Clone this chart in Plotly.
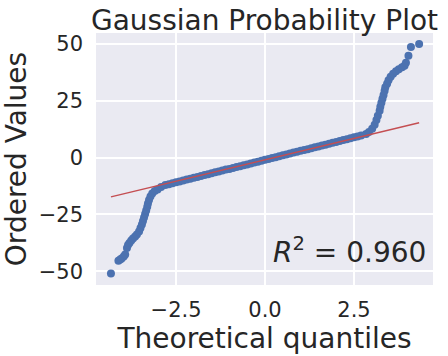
import plotly.graph_objects as go

# ordered sample values vs. theoretical normal quantiles
left_x = [-4.33, -4.12, -4.07, -4.03, -3.97, -3.93, -3.88, -3.85, -3.81, -3.76,
          -3.71, -3.65, -3.60, -3.54, -3.50, -3.46, -3.43, -3.40, -3.37, -3.34,
          -3.31, -3.29, -3.26, -3.22, -3.17, -3.10, -3.02, -2.92]
left_y = [-51.0, -45.4, -44.9, -44.4, -43.6, -42.7, -39.8, -38.5, -37.6, -36.5,
          -35.6, -34.7, -33.9, -32.5, -31.0, -29.5, -27.9, -26.4, -24.8, -23.3,
          -21.7, -20.2, -18.7, -17.1, -15.8, -14.7, -14.0, -13.0]

mid_x = [-2.8, -2.7, -2.6, -2.5, -2.4, -2.3, -2.2, -2.1, -2.0, -1.9,
         -1.8, -1.7, -1.6, -1.5, -1.4, -1.3, -1.2, -1.1, -1.0, -0.9,
         -0.8, -0.7, -0.6, -0.5, -0.4, -0.3, -0.2, -0.1, 0.0, 0.1,
         0.2, 0.3, 0.4, 0.5, 0.6, 0.7, 0.8, 0.9, 1.0, 1.1,
         1.2, 1.3, 1.4, 1.5, 1.6, 1.7, 1.8, 1.9, 2.0, 2.1,
         2.2, 2.3, 2.4, 2.5, 2.6, 2.7]
mid_y = [-12.1, -11.7, -11.3, -10.9, -10.5, -10.1, -9.7, -9.3, -8.9, -8.5,
         -8.1, -7.7, -7.3, -6.9, -6.5, -6.1, -5.7, -5.3, -5.0, -4.6,
         -4.2, -3.8, -3.4, -3.0, -2.6, -2.2, -1.8, -1.4, -1.0, -0.6,
         -0.2, 0.2, 0.6, 1.0, 1.4, 1.8, 2.2, 2.6, 3.0, 3.3,
         3.7, 4.1, 4.5, 4.9, 5.3, 5.7, 6.1, 6.5, 6.9, 7.3,
         7.7, 8.1, 8.5, 8.9, 9.3, 9.7]

right_x = [2.84, 2.92, 3.01, 3.08, 3.13, 3.17, 3.22, 3.24, 3.27, 3.30,
           3.33, 3.36, 3.38, 3.43, 3.47, 3.53, 3.60, 3.68, 3.76, 3.85,
           3.92, 3.96, 4.03, 4.10, 4.33]
right_y = [10.4, 11.3, 12.7, 14.4, 16.6, 18.4, 20.6, 22.4, 24.1, 25.9,
           27.6, 29.4, 31.0, 32.5, 34.0, 35.6, 36.9, 38.0, 38.9, 39.8,
           40.4, 41.8, 44.8, 48.7, 50.0]

# least-squares fit line end points
fit_x = [-4.33, 4.33]
fit_y = [-17.3, 15.3]
r_squared = 0.960

x_ticks = [-2.5, 0.0, 2.5]
y_ticks = [-50, -25, 0, 25, 50]

osm = left_x + mid_x + right_x
osr = left_y + mid_y + right_y

ink = "#262626"
font = "DejaVu Sans"

fig = go.Figure()
fig.add_trace(
    go.Scatter(
        x=osm,
        y=osr,
        mode="markers",
        marker=dict(color="#4C72B0", size=8, line=dict(width=0)),
    )
)
fig.add_trace(
    go.Scatter(
        x=fit_x,
        y=fit_y,
        mode="lines",
        line=dict(color="#C44E52", width=1.5),
    )
)

fig.add_annotation(
    text=f"<i>R</i><sup>2</sup> = {r_squared:.3f}",
    xref="paper",
    yref="paper",
    x=0.985,
    y=0.135,
    xanchor="right",
    yanchor="middle",
    showarrow=False,
    font=dict(family=font, size=28, color=ink),
)

fig.update_layout(
    width=448,
    height=356,
    margin=dict(l=96, r=15, t=33, b=71),
    paper_bgcolor="white",
    plot_bgcolor="#EAEAF2",
    showlegend=False,
    font=dict(family=font, color=ink),
    title=dict(
        text="Gaussian Probability Plot",
        xref="paper",
        x=0.5,
        xanchor="center",
        yref="container",
        y=0.972,
        yanchor="top",
        automargin=False,
        font=dict(family=font, size=28, color=ink),
    ),
)
fig.update_xaxes(
    range=[-4.75, 4.72],
    tickvals=x_ticks,
    ticktext=["\u22122.5", "0.0", "2.5"],
    showgrid=True,
    gridcolor="white",
    gridwidth=1.5,
    zeroline=False,
    showline=False,
    ticks="",
    automargin=False,
    ticklabelstandoff=10,
    tickfont=dict(size=21, color=ink),
    title=dict(text="Theoretical quantiles", font=dict(size=28, color=ink), standoff=1),
)
fig.update_yaxes(
    range=[-56.1, 54.85],
    tickvals=y_ticks,
    ticktext=["\u221250", "\u221225", "0", "25", "50"],
    showgrid=True,
    gridcolor="white",
    gridwidth=1.5,
    zeroline=False,
    showline=False,
    ticks="",
    automargin=False,
    ticklabelstandoff=12,
    tickfont=dict(size=21, color=ink),
    title=dict(text="Ordered Values", font=dict(size=28, color=ink), standoff=8),
)

fig.write_html(
    "out.html",
    config={"displayModeBar": False},
    post_script="document.body.style.margin = '0';",
)
